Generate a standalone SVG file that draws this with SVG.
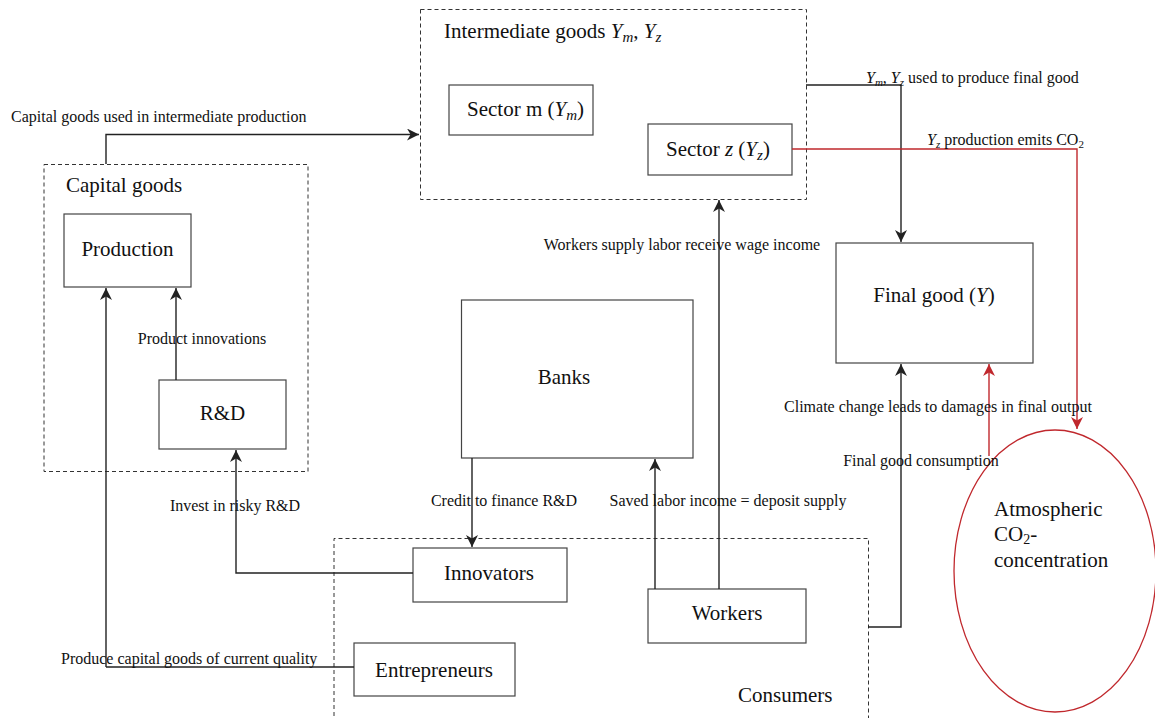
<svg xmlns="http://www.w3.org/2000/svg" width="1155" height="718" viewBox="0 0 1155 718">
<defs>
<marker id="ah" markerWidth="12" markerHeight="12" refX="10" refY="5" orient="auto" markerUnits="userSpaceOnUse" viewBox="0 0 10 10">
<path d="M0,0 L10,5 L0,10 L3,5 z" fill="#222"/>
</marker>
<marker id="ahr" markerWidth="12" markerHeight="12" refX="10" refY="5" orient="auto" markerUnits="userSpaceOnUse" viewBox="0 0 10 10">
<path d="M0,0 L10,5 L0,10 L3,5 z" fill="#c0282d"/>
</marker>
<style>
text{font-family:"Liberation Serif","Times New Roman",serif;fill:#111}
.big{font-size:21px}
.lbl{font-size:16px}
.box{fill:#fff;stroke:#444;stroke-width:1.2}
.dash{fill:none;stroke:#333;stroke-width:1;stroke-dasharray:4,3}
.ln{fill:none;stroke:#222;stroke-width:1.4}
.red{fill:none;stroke:#c0282d;stroke-width:1.4}
.it{font-style:italic}
</style>
</defs>
<rect width="1155" height="718" fill="#fff"/>

<g id="intermediate">
<rect class="dash" x="420.5" y="9.5" width="386" height="190"/>
<text class="big" x="444" y="38">Intermediate goods <tspan class="it">Y</tspan><tspan class="it" font-size="15" dy="4">m</tspan><tspan dy="-4">, </tspan><tspan class="it">Y</tspan><tspan class="it" font-size="15" dy="4">z</tspan></text>
</g>
<g id="sector-m">
<rect class="box" x="449" y="85" width="144" height="50"/>
<text class="big" x="467" y="116">Sector m (<tspan class="it">Y</tspan><tspan class="it" font-size="15" dy="4">m</tspan><tspan dy="-4">)</tspan></text>
</g>
<g id="sector-z">
<rect class="box" x="648" y="124" width="144" height="51"/>
<text class="big" x="666" y="156">Sector <tspan class="it">z</tspan> (<tspan class="it">Y</tspan><tspan class="it" font-size="15" dy="4">z</tspan><tspan dy="-4">)</tspan></text>
</g>
<g id="capital-goods">
<rect class="dash" x="44" y="164.5" width="264" height="307"/>
<text class="big" x="66" y="192">Capital goods</text>
</g>
<g id="production">
<rect class="box" x="64" y="214" width="127" height="73"/>
<text class="big" x="127.5" y="256" text-anchor="middle">Production</text>
</g>
<g id="rnd">
<rect class="box" x="159" y="380" width="127" height="69"/>
<text class="big" x="222.5" y="420" text-anchor="middle">R&amp;D</text>
</g>
<g id="banks">
<rect class="box" x="461.5" y="300" width="231.5" height="158"/>
<text class="big" x="564" y="384" text-anchor="middle">Banks</text>
</g>
<g id="final-good">
<rect class="box" x="836" y="243" width="197" height="120"/>
<text class="big" x="934" y="302" text-anchor="middle">Final good (<tspan class="it">Y</tspan>)</text>
</g>
<g id="consumers">
<path class="dash" d="M334,730 V538.5 H868.5 V730"/>
<text class="big" x="738" y="702">Consumers</text>
</g>
<g id="innovators">
<rect class="box" x="413" y="548" width="154" height="54"/>
<text class="big" x="489" y="580" text-anchor="middle">Innovators</text>
</g>
<g id="workers">
<rect class="box" x="648" y="589" width="158" height="54"/>
<text class="big" x="727" y="620" text-anchor="middle">Workers</text>
</g>
<g id="entrepreneurs">
<rect class="box" x="354" y="643" width="161" height="53"/>
<text class="big" x="434" y="677" text-anchor="middle">Entrepreneurs</text>
</g>
<g id="co2">
<ellipse cx="1055" cy="571" rx="101" ry="141" fill="none" stroke="#c0282d" stroke-width="1.3"/>
<text class="big" x="994" y="516">Atmospheric</text>
<text class="big" x="994" y="541">CO<tspan font-size="14" dy="3">2</tspan><tspan dy="-3">-</tspan></text>
<text class="big" x="994" y="567">concentration</text>
</g>

<g id="connectors">
<path class="ln" d="M106,164 V134.5 H419" marker-end="url(#ah)"/>
<path class="ln" d="M176,380 V288" marker-end="url(#ah)"/>
<path class="ln" d="M106,667 V288" marker-end="url(#ah)"/>
<path class="ln" d="M354,667 H106"/>
<path class="ln" d="M413,573 H236 V450" marker-end="url(#ah)"/>
<path class="ln" d="M472,458 V547" marker-end="url(#ah)"/>
<path class="ln" d="M655,589 V459" marker-end="url(#ah)"/>
<path class="ln" d="M719,589 V200" marker-end="url(#ah)"/>
<path class="ln" d="M806,85 H901 V242" marker-end="url(#ah)"/>
<path class="ln" d="M868,627 H901 V364" marker-end="url(#ah)"/>
<path class="red" d="M792,149 H1077 V429" marker-end="url(#ahr)"/>
<path class="red" d="M989,456 V364" marker-end="url(#ahr)"/>
</g>

<g id="labels">
<text class="lbl" x="11" y="122">Capital goods used in intermediate production</text>
<text class="lbl" x="202" y="344" text-anchor="middle">Product innovations</text>
<text class="lbl" x="235" y="511" text-anchor="middle">Invest in risky R&amp;D</text>
<text class="lbl" x="61" y="664">Produce capital goods of current quality</text>
<text class="lbl" x="504" y="506" text-anchor="middle">Credit to finance R&amp;D</text>
<text class="lbl" x="728" y="506" text-anchor="middle">Saved labor income = deposit supply</text>
<text class="lbl" x="682" y="250" text-anchor="middle">Workers supply labor receive wage income</text>
<text class="lbl" x="866" y="83"><tspan class="it">Y</tspan><tspan class="it" font-size="11" dy="3">m</tspan><tspan dy="-3">, </tspan><tspan class="it">Y</tspan><tspan class="it" font-size="11" dy="3">z</tspan><tspan dy="-3"> used to produce final good</tspan></text>
<text class="lbl" x="927" y="145"><tspan class="it">Y</tspan><tspan class="it" font-size="11" dy="3">z</tspan><tspan dy="-3"> production emits CO</tspan><tspan font-size="11" dy="3">2</tspan></text>
<text class="lbl" x="938" y="412" text-anchor="middle">Climate change leads to damages in final output</text>
<text class="lbl" x="921" y="466" text-anchor="middle">Final good consumption</text>
</g>
</svg>
